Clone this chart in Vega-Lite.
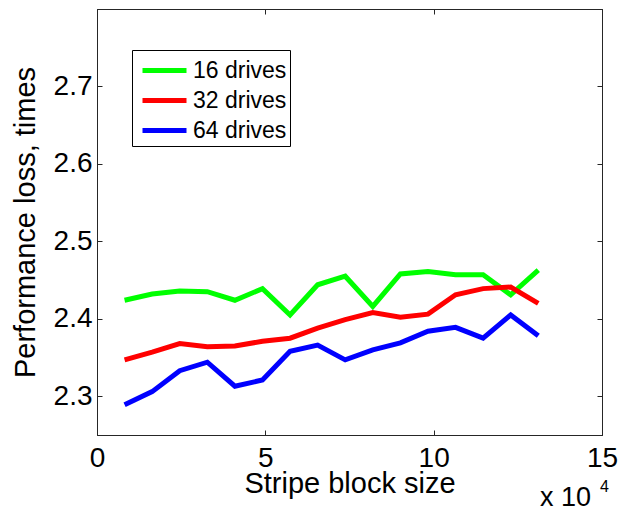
{
  "$schema": "https://vega.github.io/schema/vega-lite/v6.json",
  "autosize": {"type": "none"},
  "padding": {"left": 97, "top": 9, "right": 33, "bottom": 76},
  "width": 505,
  "height": 426,
  "background": "white",
  "config": {
    "font": "Liberation Sans",
    "view": {"stroke": "#262626", "strokeWidth": 1},
    "axis": {"domainColor": "#262626", "tickColor": "#262626", "labelColor": "black", "titleColor": "black", "grid": false, "labelFont": "Liberation Sans", "titleFont": "Liberation Sans", "labelFontSize": 28, "titleFontSize": 29, "titleFontWeight": "normal", "tickSize": -5}
  },
  "datasets": {
    "lines": [
      {"size": 8192, "loss": 2.424, "series": "16 drives"},
      {"size": 16384, "loss": 2.432, "series": "16 drives"},
      {"size": 24576, "loss": 2.436, "series": "16 drives"},
      {"size": 32768, "loss": 2.435, "series": "16 drives"},
      {"size": 40960, "loss": 2.424, "series": "16 drives"},
      {"size": 49152, "loss": 2.439, "series": "16 drives"},
      {"size": 57344, "loss": 2.405, "series": "16 drives"},
      {"size": 65536, "loss": 2.444, "series": "16 drives"},
      {"size": 73728, "loss": 2.455, "series": "16 drives"},
      {"size": 81920, "loss": 2.416, "series": "16 drives"},
      {"size": 90112, "loss": 2.458, "series": "16 drives"},
      {"size": 98304, "loss": 2.461, "series": "16 drives"},
      {"size": 106496, "loss": 2.457, "series": "16 drives"},
      {"size": 114688, "loss": 2.457, "series": "16 drives"},
      {"size": 122880, "loss": 2.431, "series": "16 drives"},
      {"size": 131072, "loss": 2.463, "series": "16 drives"},
      {"size": 8192, "loss": 2.347, "series": "32 drives"},
      {"size": 16384, "loss": 2.357, "series": "32 drives"},
      {"size": 24576, "loss": 2.368, "series": "32 drives"},
      {"size": 32768, "loss": 2.364, "series": "32 drives"},
      {"size": 40960, "loss": 2.365, "series": "32 drives"},
      {"size": 49152, "loss": 2.371, "series": "32 drives"},
      {"size": 57344, "loss": 2.375, "series": "32 drives"},
      {"size": 65536, "loss": 2.388, "series": "32 drives"},
      {"size": 73728, "loss": 2.399, "series": "32 drives"},
      {"size": 81920, "loss": 2.408, "series": "32 drives"},
      {"size": 90112, "loss": 2.402, "series": "32 drives"},
      {"size": 98304, "loss": 2.406, "series": "32 drives"},
      {"size": 106496, "loss": 2.431, "series": "32 drives"},
      {"size": 114688, "loss": 2.439, "series": "32 drives"},
      {"size": 122880, "loss": 2.441, "series": "32 drives"},
      {"size": 131072, "loss": 2.420, "series": "32 drives"},
      {"size": 8192, "loss": 2.289, "series": "64 drives"},
      {"size": 16384, "loss": 2.306, "series": "64 drives"},
      {"size": 24576, "loss": 2.333, "series": "64 drives"},
      {"size": 32768, "loss": 2.344, "series": "64 drives"},
      {"size": 40960, "loss": 2.313, "series": "64 drives"},
      {"size": 49152, "loss": 2.321, "series": "64 drives"},
      {"size": 57344, "loss": 2.358, "series": "64 drives"},
      {"size": 65536, "loss": 2.366, "series": "64 drives"},
      {"size": 73728, "loss": 2.347, "series": "64 drives"},
      {"size": 81920, "loss": 2.360, "series": "64 drives"},
      {"size": 90112, "loss": 2.369, "series": "64 drives"},
      {"size": 98304, "loss": 2.384, "series": "64 drives"},
      {"size": 106496, "loss": 2.389, "series": "64 drives"},
      {"size": 114688, "loss": 2.375, "series": "64 drives"},
      {"size": 122880, "loss": 2.405, "series": "64 drives"},
      {"size": 131072, "loss": 2.378, "series": "64 drives"}
    ],
    "notes": [
      {"size": 131584, "loss": 2.158, "label": "x 10", "kind": "base"},
      {"size": 149400, "loss": 2.176, "label": "4", "kind": "exp"}
    ]
  },
  "resolve": {"axis": {"x": "independent", "y": "independent"}},
  "layer": [
    {
      "data": {"name": "lines"},
      "mark": {"type": "line", "strokeWidth": 5, "strokeJoin": "miter", "clip": true},
      "encoding": {
        "x": {"field": "size", "type": "quantitative", "scale": {"domain": [0, 150000], "nice": false, "zero": false},
              "axis": {"orient": "bottom", "values": [0, 50000, 100000, 150000], "labelExpr": "format(datum.value / 10000, 'd')", "title": "Stripe block size", "labelPadding": 14, "titlePadding": -3, "labelFlush": false}},
        "y": {"field": "loss", "type": "quantitative", "scale": {"domain": [2.25, 2.8], "nice": false, "zero": false},
              "axis": {"orient": "left", "values": [2.3, 2.4, 2.5, 2.6, 2.7], "format": ".1f", "title": "Performance loss, times", "labelPadding": 10, "titlePadding": 13}},
        "color": {"field": "series", "type": "nominal",
                  "scale": {"domain": ["16 drives", "32 drives", "64 drives"], "range": ["#00FF00", "#FF0000", "#0000FF"]},
                  "legend": {"title": null, "orient": "none", "legendX": 35, "legendY": 41, "strokeColor": "black", "fillColor": "white", "padding": 3, "cornerRadius": 0,
                             "symbolType": "M-0.667,0H2.267", "symbolStrokeWidth": 5, "symbolSize": 900, "symbolFillColor": "transparent",
                             "labelFont": "Liberation Sans", "labelFontSize": 23, "labelColor": "black", "labelOffset": 23, "rowPadding": 0}}
      }
    },
    {
      "data": {"name": "lines"},
      "mark": {"type": "point", "opacity": 0},
      "encoding": {
        "x": {"field": "size", "type": "quantitative", "scale": {"domain": [0, 150000], "nice": false, "zero": false},
              "axis": {"orient": "top", "values": [0, 50000, 100000, 150000], "labels": false, "title": null}},
        "y": {"field": "loss", "type": "quantitative", "scale": {"domain": [2.25, 2.8], "nice": false, "zero": false},
              "axis": {"orient": "right", "values": [2.3, 2.4, 2.5, 2.6, 2.7], "labels": false, "title": null}}
      }
    },
    {
      "data": {"name": "notes"},
      "mark": {"type": "text", "align": "left", "baseline": "alphabetic", "font": "Liberation Sans", "color": "black", "clip": false},
      "encoding": {
        "x": {"field": "size", "type": "quantitative", "axis": null},
        "y": {"field": "loss", "type": "quantitative", "axis": null},
        "text": {"field": "label"},
        "size": {"field": "kind", "type": "nominal", "scale": {"domain": ["base", "exp"], "range": [27, 16]}, "legend": null}
      }
    }
  ]
}
